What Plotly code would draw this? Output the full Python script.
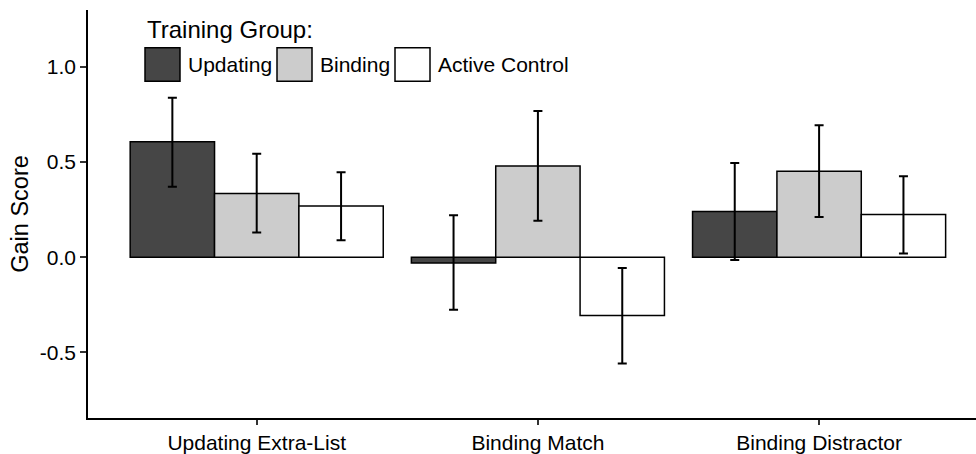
import plotly.graph_objects as go

categories = ["Updating Extra-List", "Binding Match", "Binding Distractor"]
groups = ["Updating", "Binding", "Active Control"]
colors = ["#464646", "#cccccc", "#ffffff"]

updating_vals = [0.607, -0.03, 0.24]
updating_hi = [0.838, 0.221, 0.495]
updating_lo = [0.370, -0.276, -0.015]

binding_vals = [0.335, 0.479, 0.451]
binding_hi = [0.543, 0.768, 0.693]
binding_lo = [0.130, 0.191, 0.211]

active_vals = [0.269, -0.307, 0.225]
active_hi = [0.446, -0.057, 0.425]
active_lo = [0.089, -0.558, 0.019]

yticks = [-0.5, 0.0, 0.5, 1.0]
yticklabels = ["-0.5", "0.0", "0.5", "1.0"]

series = [
    (updating_vals, updating_hi, updating_lo),
    (binding_vals, binding_hi, binding_lo),
    (active_vals, active_hi, active_lo),
]

FONT = "Liberation Sans, Arial, sans-serif"
W, H = 976, 454
L, R, T, B = 88, 0, 10, 32

fig = go.Figure()
for name, col, (v, hi, lo) in zip(groups, colors, series):
    fig.add_trace(go.Bar(
        x=categories, y=v, name=name,
        marker=dict(color=col, line=dict(color="black", width=1.5)),
        error_y=dict(type="data", symmetric=False,
                     array=[h - m for h, m in zip(hi, v)],
                     arrayminus=[m - l for m, l in zip(v, lo)],
                     color="black", thickness=2, width=4.5),
        showlegend=False,
    ))

# custom legend (layout only)
pw, ph = W - L - R, H - T - B
def px2x(p):
    return (p - L) / pw
def px2y(p):
    return (H - B - p) / ph

shapes = []
annotations = []
box_left = [145, 277, 395]
label_left = [186, 318, 436]
for bl, ll, name, col in zip(box_left, label_left, groups, colors):
    shapes.append(dict(type="rect", xref="paper", yref="paper",
                       x0=px2x(bl), x1=px2x(bl + 35), y0=px2y(82), y1=px2y(48),
                       fillcolor=col, line=dict(color="black", width=1.5)))
    annotations.append(dict(text=name, xref="paper", yref="paper",
                            x=px2x(ll), y=px2y(65), xanchor="left", yanchor="middle",
                            showarrow=False, font=dict(size=21, color="black", family=FONT)))
annotations.append(dict(text="Training Group:", xref="paper", yref="paper",
                        x=px2x(145), y=px2y(30), xanchor="left", yanchor="middle",
                        showarrow=False, font=dict(size=24, color="black", family=FONT)))

fig.update_layout(
    width=W, height=H,
    margin=dict(l=L, r=R, t=T, b=B, pad=0),
    barmode="group", bargap=0.1, bargroupgap=0,
    plot_bgcolor="white", paper_bgcolor="white",
    font=dict(family=FONT, color="black"),
    shapes=shapes, annotations=annotations,
    showlegend=False,
)
fig.update_xaxes(
    range=[-0.6, 2.558], showline=True, linecolor="black", linewidth=1.5,
    ticks="outside", ticklen=5, tickwidth=1.5, tickcolor="#333333",
    showgrid=False, zeroline=False,
    tickfont=dict(size=21, color="black", family=FONT),
)
fig.update_yaxes(
    range=[-0.845, 1.299], showline=True, linecolor="black", linewidth=1.5,
    ticks="outside", ticklen=6, tickwidth=1.5, tickcolor="#333333",
    tickvals=yticks, ticktext=yticklabels,
    showgrid=False, zeroline=False,
    tickfont=dict(size=21, color="black", family=FONT),
    title=dict(text="Gain Score", font=dict(size=23.5, color="black", family=FONT), standoff=5),
)

fig.write_html("out.html")
